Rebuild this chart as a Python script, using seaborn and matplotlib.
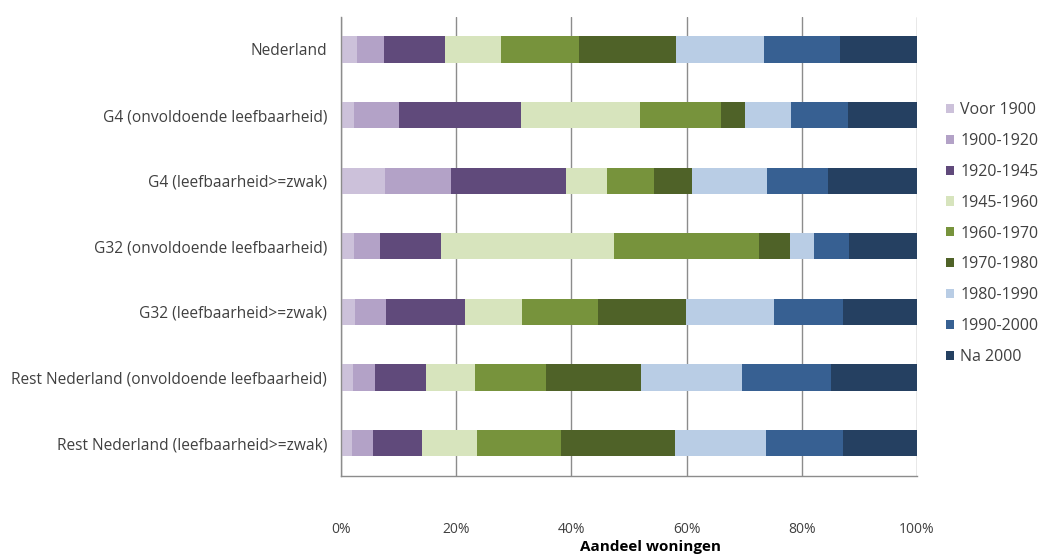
import matplotlib
matplotlib.use('Agg')
import matplotlib.pyplot as plt
from matplotlib.patches import Patch
from matplotlib.ticker import PercentFormatter
import numpy as np
import pandas as pd
import seaborn as sns

# Categories (top to bottom)
categories = [
    "Nederland",
    "G4 (onvoldoende leefbaarheid)",
    "G4 (leefbaarheid>=zwak)",
    "G32 (onvoldoende leefbaarheid)",
    "G32 (leefbaarheid>=zwak)",
    "Rest Nederland (onvoldoende leefbaarheid)",
    "Rest Nederland (leefbaarheid>=zwak)",
]

periods = ["Voor 1900", "1900-1920", "1920-1945", "1945-1960", "1960-1970",
           "1970-1980", "1980-1990", "1990-2000", "Na 2000"]

# Share of dwellings (%) per building period, one list per period
voor_1900 = [2.7, 2.3, 7.7, 2.3, 2.4, 2.1, 1.9]
p1900_1920 = [4.8, 7.7, 11.4, 4.5, 5.4, 3.8, 3.7]
p1920_1945 = [10.6, 21.3, 19.9, 10.6, 13.8, 8.8, 8.4]
p1945_1960 = [9.7, 20.6, 7.1, 30.0, 9.9, 8.5, 9.6]
p1960_1970 = [13.5, 14.0, 8.2, 25.2, 13.1, 12.3, 14.6]
p1970_1980 = [16.9, 4.3, 6.6, 5.5, 15.4, 16.6, 19.8]
p1980_1990 = [15.3, 8.0, 13.0, 4.1, 15.2, 17.4, 15.7]
p1990_2000 = [13.2, 9.9, 10.5, 6.0, 12.1, 15.4, 13.5]
na_2000 = [13.3, 11.9, 15.5, 11.9, 12.8, 15.0, 12.8]

colors = ["#ccc1da", "#b3a2c7", "#604a7b", "#d7e4bd", "#77933c",
          "#4f6228", "#b9cde5", "#376092", "#254061"]

series = [voor_1900, p1900_1920, p1920_1945, p1945_1960, p1960_1970,
          p1970_1980, p1980_1990, p1990_2000, na_2000]

# normalise each row to 100%
vals = np.array(series, dtype=float)
vals = vals / vals.sum(axis=0) * 100
cum = np.cumsum(vals, axis=0)

df = pd.DataFrame(cum.T, columns=periods)
df["categorie"] = categories

sns.set_style("white")
plt.rcParams['font.family'] = ['Open Sans', 'DejaVu Sans']
text_color = "#404040"

fig = plt.figure(figsize=(10.48, 5.56), dpi=100)
ax = fig.add_axes([0.3254, 0.1439, 0.875 - 0.3254, 0.970 - 0.1439])

# stacked bars: draw the cumulative totals from the last period backwards
for period, color in reversed(list(zip(periods, colors))):
    sns.barplot(data=df, x=period, y="categorie", color=color, width=0.4,
                orient="h", ax=ax, saturation=1, linewidth=0)

ax.set_xlim(0, 100)
ax.set_xticks(range(0, 101, 20))
ax.xaxis.set_major_formatter(PercentFormatter(decimals=0))
ax.grid(axis="x", color="#8c8c8c", linewidth=1)
ax.set_axisbelow(True)
for side in ["top", "right"]:
    ax.spines[side].set_visible(False)
for side in ["left", "bottom"]:
    ax.spines[side].set_color("#8c8c8c")
    ax.spines[side].set_linewidth(1)
ax.tick_params(axis="both", length=0, colors=text_color)
ax.tick_params(axis="x", pad=33, labelsize=10)
ax.tick_params(axis="y", pad=10, labelsize=11.2)
ax.set_xlabel("")
ax.set_ylabel("")

fig.text(651 / 1048, 1 - 547 / 556, "Aandeel woningen", ha="center", va="center",
         fontsize=11, fontweight="bold", color="black")

handles = [Patch(facecolor=c, edgecolor="none", label=p) for p, c in zip(periods, colors)]
fig.legend(handles=handles, loc="center left", bbox_to_anchor=(0.889, 0.58),
           frameon=False, fontsize=11.5, labelcolor=text_color,
           handlelength=0.5, handleheight=0.5, handletextpad=0.4,
           labelspacing=0.93)

fig.savefig("out.png", dpi=100)
